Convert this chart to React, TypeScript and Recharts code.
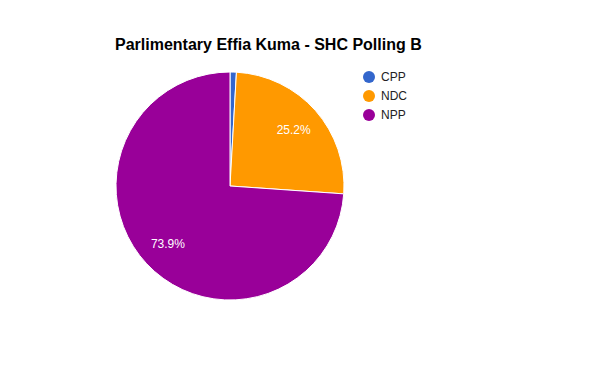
import React from "react";
import { PieChart, Pie, Cell } from "recharts";

// Vote share per party (percent)
const parties = ["CPP", "NDC", "NPP"];
const shares = [0.9, 25.2, 73.9];
const colors = ["#3366cc", "#ff9900", "#990099"];

const data = parties.map((name, i) => ({ name, value: shares[i] }));

const RADIAN = Math.PI / 180;

const renderLabel = (props: any) => {
  const { cx, cy, midAngle, outerRadius, percent } = props;
  if (percent < 0.05) return null;
  const r = outerRadius * 0.745;
  const x = cx + r * Math.cos(-midAngle * RADIAN);
  const y = cy + r * Math.sin(-midAngle * RADIAN);
  return (
    <text
      x={x}
      y={y}
      fill="#ffffff"
      textAnchor="middle"
      dominantBaseline="central"
      fontFamily="Arial, 'Liberation Sans', sans-serif"
      fontSize={12}
    >
      {`${(percent * 100).toFixed(1)}%`}
    </text>
  );
};

export default function App() {
  return (
    <div
      style={{
        position: "absolute",
        left: 0,
        top: 0,
        width: 600,
        height: 371,
        background: "#ffffff",
        fontFamily: "Arial, 'Liberation Sans', sans-serif",
      }}
    >
      <div
        style={{
          position: "absolute",
          left: 115,
          top: 35,
          fontSize: 16,
          fontWeight: "bold",
          color: "#000000",
          whiteSpace: "nowrap",
          lineHeight: "20px",
        }}
      >
        Parlimentary Effia Kuma - SHC Polling B
      </div>
      <PieChart width={600} height={371} margin={{ top: 0, right: 0, bottom: 0, left: 0 }}>
        <Pie
          data={data}
          dataKey="value"
          nameKey="name"
          cx={230}
          cy={186}
          outerRadius={114}
          startAngle={90}
          endAngle={-270}
          stroke="#ffffff"
          strokeWidth={1}
          label={renderLabel}
          labelLine={false}
          isAnimationActive={false}
        >
          {data.map((d, i) => (
            <Cell key={d.name} fill={colors[i]} />
          ))}
        </Pie>
      </PieChart>
      <div style={{ position: "absolute", left: 362, top: 67 }}>
        {data.map((d, i) => (
          <div
            key={d.name}
            style={{
              display: "flex",
              alignItems: "center",
              height: 19,
              fontSize: 12,
              color: "#222222",
            }}
          >
            <svg width={14} height={14} style={{ marginRight: 5 }}>
              <circle cx={7} cy={7} r={6} fill={colors[i]} />
            </svg>
            <span>{d.name}</span>
          </div>
        ))}
      </div>
    </div>
  );
}
